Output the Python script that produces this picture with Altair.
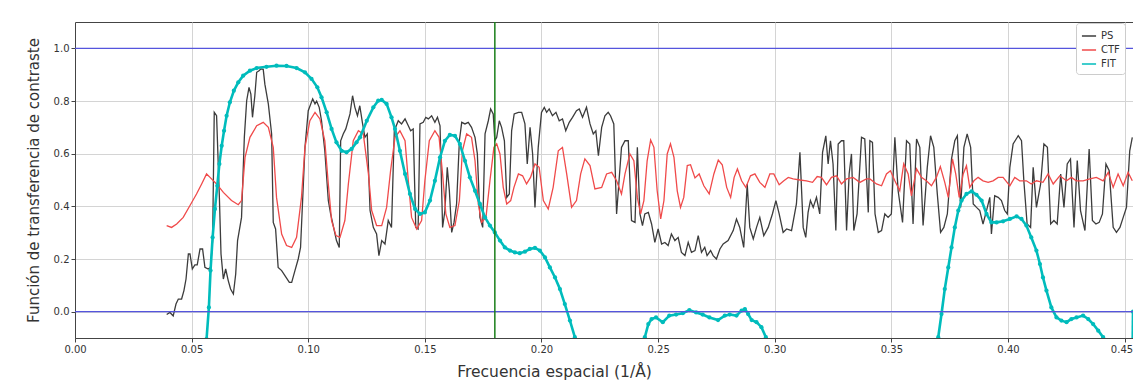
import altair as alt
import pandas as pd

# ---------------- data ----------------
ps_x = [0.0393, 0.0407, 0.0421, 0.0433, 0.0443, 0.0457, 0.0467, 0.0476, 0.0486, 0.0493,
        0.0503, 0.0514, 0.0524, 0.0536, 0.0547, 0.0557, 0.0571, 0.0581, 0.0590, 0.0597,
        0.0607, 0.0619, 0.0626, 0.0636, 0.0646, 0.0657, 0.0667, 0.0679, 0.0689, 0.0697,
        0.0714, 0.0726, 0.0736, 0.0746, 0.0754, 0.0761, 0.0771, 0.0779, 0.0789, 0.0797,
        0.0807, 0.0814, 0.0829, 0.0843, 0.0850, 0.0860, 0.0871, 0.0886, 0.0900, 0.0919,
        0.0929, 0.0943, 0.0957, 0.0967, 0.0979, 0.0986, 0.1000, 0.1019, 0.1029, 0.1036,
        0.1047, 0.1057, 0.1071, 0.1086, 0.1096, 0.1107, 0.1121, 0.1133, 0.1139, 0.1150,
        0.1161, 0.1179, 0.1190, 0.1200, 0.1211, 0.1221,
        0.1232, 0.1243, 0.1253, 0.1265, 0.1279, 0.1293, 0.1303, 0.1315, 0.1329, 0.1343,
        0.1357, 0.1369, 0.1386, 0.1400, 0.1415, 0.1429, 0.1439, 0.1450, 0.1461, 0.1471,
        0.1479, 0.1493, 0.1504, 0.1515, 0.1529, 0.1543, 0.1554, 0.1565, 0.1576, 0.1586,
        0.1596, 0.1605, 0.1615, 0.1625, 0.1636, 0.1648, 0.1658, 0.1672, 0.1686, 0.1700,
        0.1715, 0.1725, 0.1736, 0.1748, 0.1758, 0.1772, 0.1782, 0.1793, 0.1800, 0.1808,
        0.1819, 0.1829, 0.1841, 0.1851, 0.1862, 0.1872, 0.1883, 0.1901, 0.1915, 0.1929,
        0.1939, 0.1951, 0.1962, 0.1972, 0.1986, 0.2000, 0.2012, 0.2022, 0.2033, 0.2047,
        0.2062, 0.2076, 0.2090, 0.2104, 0.2119, 0.2133, 0.2150, 0.2162, 0.2176, 0.2193,
        0.2208, 0.2222, 0.2233, 0.2244, 0.2258, 0.2272, 0.2286, 0.2296, 0.2310, 0.2322,
        0.2343, 0.2358, 0.2372, 0.2386, 0.2401, 0.2411, 0.2422, 0.2433, 0.2443, 0.2458,
        0.2472, 0.2486, 0.2500, 0.2515, 0.2529, 0.2543, 0.2557, 0.2572, 0.2586, 0.2600,
        0.2615, 0.2629, 0.2643, 0.2658, 0.2672, 0.2686, 0.2700, 0.2710, 0.2725, 0.2736,
        0.2750, 0.2765, 0.2779, 0.2800, 0.2822, 0.2836, 0.2850, 0.2867, 0.2882, 0.2893,
        0.2908, 0.2922, 0.2936, 0.2953, 0.2972, 0.2990, 0.3005, 0.3019, 0.3036, 0.3051,
        0.3072, 0.3093, 0.3108, 0.3122, 0.3133, 0.3143, 0.3153, 0.3165, 0.3179, 0.3193,
        0.3205, 0.3219, 0.3229, 0.3239, 0.3250, 0.3262, 0.3272, 0.3286, 0.3296, 0.3308,
        0.3319, 0.3329, 0.3339, 0.3353, 0.3372, 0.3386, 0.3401,
        0.3408, 0.3419, 0.3430, 0.3444, 0.3458, 0.3472, 0.3486, 0.3500, 0.3515, 0.3529,
        0.3548, 0.3565, 0.3579, 0.3593, 0.3608, 0.3622, 0.3636, 0.3654, 0.3668, 0.3682,
        0.3697, 0.3711, 0.3725, 0.3740, 0.3758, 0.3772, 0.3783, 0.3797, 0.3811, 0.3825,
        0.3840, 0.3851, 0.3865, 0.3879, 0.3893, 0.3908, 0.3922, 0.3929, 0.3943, 0.3958,
        0.3972, 0.3986, 0.3997, 0.4008, 0.4022, 0.4044, 0.4058, 0.4068, 0.4082, 0.4097,
        0.4108, 0.4122, 0.4140, 0.4154, 0.4169, 0.4183, 0.4197, 0.4211, 0.4226, 0.4240,
        0.4254, 0.4268, 0.4283, 0.4297, 0.4311, 0.4330, 0.4348, 0.4362, 0.4377, 0.4391,
        0.4405, 0.4420, 0.4434, 0.4451, 0.4465, 0.4480, 0.4494, 0.4508, 0.4522, 0.4533]
ps_y = [-0.011, -0.003, -0.016, 0.029, 0.048, 0.048, 0.080, 0.124, 0.219, 0.219,
        0.162, 0.178, 0.178, 0.238, 0.238, 0.168, 0.162, 0.168, 0.270, 0.757,
        0.744, 0.434, 0.219, 0.124, 0.162, 0.118, 0.086, 0.067, 0.143, 0.270,
        0.358, 0.662, 0.801, 0.852, 0.826, 0.738, 0.820, 0.909, 0.915, 0.922,
        0.920, 0.864, 0.788, 0.675, 0.339, 0.314, 0.168, 0.156, 0.137, 0.111,
        0.111, 0.156, 0.200, 0.244, 0.485, 0.624, 0.763, 0.808, 0.789, 0.799,
        0.776, 0.725, 0.611, 0.422, 0.371, 0.327, 0.270, 0.244, 0.649, 0.675,
        0.694, 0.751, 0.820, 0.776, 0.744, 0.782,
        0.719, 0.662, 0.675, 0.384, 0.320, 0.295, 0.213, 0.270, 0.257, 0.346,
        0.320, 0.687, 0.725, 0.713, 0.732, 0.706, 0.687, 0.694, 0.320, 0.314,
        0.713, 0.719, 0.738, 0.732, 0.744, 0.719, 0.738, 0.706, 0.320, 0.384,
        0.548, 0.459, 0.301, 0.339, 0.409, 0.649, 0.719, 0.713, 0.719, 0.700,
        0.662, 0.599, 0.358, 0.320, 0.675, 0.725, 0.770, 0.751, 0.649, 0.662,
        0.725, 0.700, 0.649, 0.434, 0.447, 0.687, 0.751, 0.757, 0.757, 0.713,
        0.561, 0.700, 0.599, 0.396, 0.624, 0.757, 0.776, 0.757, 0.770, 0.744,
        0.757, 0.725, 0.732, 0.687, 0.719, 0.738, 0.763, 0.770, 0.738, 0.776,
        0.713, 0.675, 0.687, 0.592, 0.700, 0.744, 0.757, 0.744, 0.713, 0.371,
        0.624, 0.649, 0.649, 0.346, 0.339, 0.624, 0.371, 0.327, 0.371, 0.377,
        0.333, 0.263, 0.314, 0.257, 0.263, 0.251, 0.295, 0.270, 0.282, 0.225,
        0.213, 0.263, 0.225, 0.232, 0.289, 0.225, 0.244, 0.213, 0.232, 0.213,
        0.200, 0.238, 0.257, 0.270, 0.308, 0.352, 0.320, 0.244, 0.485, 0.320,
        0.276, 0.320, 0.358, 0.289, 0.320, 0.371, 0.422, 0.371, 0.301, 0.314,
        0.308, 0.409, 0.605, 0.320, 0.282, 0.377, 0.422, 0.396, 0.434, 0.371,
        0.605, 0.668, 0.561, 0.649, 0.561, 0.308, 0.637, 0.649, 0.649, 0.308,
        0.523, 0.599, 0.308, 0.371, 0.662, 0.656, 0.377,
        0.649, 0.643, 0.371, 0.301, 0.308, 0.371, 0.358, 0.371, 0.662, 0.459,
        0.339, 0.649, 0.637, 0.333, 0.656, 0.624, 0.327, 0.548, 0.668, 0.624,
        0.447, 0.301, 0.320, 0.371, 0.580, 0.649, 0.668, 0.396, 0.624, 0.675,
        0.624, 0.409, 0.396, 0.384, 0.333, 0.384, 0.434, 0.295, 0.440, 0.434,
        0.422, 0.384, 0.371, 0.548, 0.637, 0.668, 0.649, 0.497, 0.333, 0.320,
        0.548, 0.396, 0.485, 0.637, 0.624, 0.333, 0.346, 0.333, 0.523, 0.396,
        0.561, 0.580, 0.320, 0.574, 0.384, 0.308, 0.618, 0.346, 0.333, 0.339,
        0.371, 0.561, 0.535, 0.320, 0.301, 0.320, 0.358, 0.396, 0.611, 0.662]

ctf_x = [0.0393, 0.0414, 0.0436, 0.0464, 0.0493, 0.0521, 0.0543, 0.0564, 0.0579, 0.0607,
         0.0636, 0.0671, 0.0700, 0.0714, 0.0729, 0.0750, 0.0779, 0.0807, 0.0829, 0.0850,
         0.0864, 0.0886, 0.0907, 0.0929, 0.0950, 0.0971, 0.0986, 0.1007, 0.1029, 0.1050,
         0.1071, 0.1086, 0.1100, 0.1119, 0.1136,
         0.1157, 0.1172, 0.1193, 0.1215, 0.1236, 0.1258, 0.1272, 0.1293, 0.1315, 0.1336,
         0.1353, 0.1372, 0.1393, 0.1415, 0.1429, 0.1443, 0.1465, 0.1486, 0.1500, 0.1519,
         0.1543, 0.1561, 0.1576, 0.1590, 0.1607, 0.1629, 0.1648, 0.1661, 0.1679, 0.1700,
         0.1715, 0.1729, 0.1743, 0.1762, 0.1779, 0.1796, 0.1808, 0.1822, 0.1836, 0.1851,
         0.1868, 0.1882, 0.1901, 0.1919, 0.1936, 0.1953, 0.1972, 0.1990, 0.2008, 0.2029,
         0.2050, 0.2072, 0.2090, 0.2108, 0.2129, 0.2150, 0.2168, 0.2186, 0.2208, 0.2229,
         0.2258, 0.2279, 0.2301, 0.2322, 0.2343,
         0.2358, 0.2379, 0.2396, 0.2411, 0.2425, 0.2439, 0.2453, 0.2468, 0.2482, 0.2496,
         0.2511, 0.2525, 0.2539, 0.2553, 0.2568, 0.2582, 0.2596, 0.2610, 0.2625, 0.2639,
         0.2658, 0.2676, 0.2696, 0.2719, 0.2739, 0.2758, 0.2775, 0.2794, 0.2811, 0.2826,
         0.2840, 0.2858, 0.2876, 0.2896, 0.2915, 0.2936, 0.2958, 0.2979, 0.2996, 0.3019,
         0.3039, 0.3058, 0.3079, 0.3108, 0.3136, 0.3162, 0.3182, 0.3200, 0.3222, 0.3243,
         0.3265, 0.3286, 0.3308, 0.3336, 0.3365, 0.3393,
         0.3408, 0.3436, 0.3458, 0.3479, 0.3496, 0.3515, 0.3536, 0.3553, 0.3572, 0.3586,
         0.3608, 0.3629, 0.3650, 0.3672, 0.3693, 0.3710, 0.3729, 0.3744, 0.3762, 0.3776,
         0.3791, 0.3808, 0.3822, 0.3836, 0.3854, 0.3872, 0.3893, 0.3915, 0.3936, 0.3958,
         0.3979, 0.4008, 0.4029, 0.4050, 0.4079, 0.4100, 0.4122, 0.4150, 0.4172, 0.4194,
         0.4222, 0.4251, 0.4272, 0.4293, 0.4322, 0.4351, 0.4379, 0.4408, 0.4430, 0.4451,
         0.4472, 0.4494, 0.4515, 0.4533]
ctf_y = [0.327, 0.320, 0.333, 0.358, 0.403, 0.447, 0.485, 0.523, 0.510, 0.485,
         0.453, 0.422, 0.406, 0.422, 0.586, 0.662, 0.706, 0.719, 0.700, 0.624,
         0.434, 0.295, 0.251, 0.244, 0.282, 0.434, 0.624, 0.725, 0.757, 0.732,
         0.649, 0.485, 0.346, 0.289, 0.282,
         0.346, 0.485, 0.649, 0.687, 0.675, 0.523, 0.384, 0.327, 0.327, 0.396,
         0.535, 0.662, 0.687, 0.649, 0.497, 0.358, 0.314, 0.346, 0.497, 0.649,
         0.687, 0.662, 0.523, 0.371, 0.320, 0.327, 0.422, 0.611, 0.675, 0.662,
         0.573, 0.409, 0.339, 0.358, 0.497, 0.624, 0.637, 0.599, 0.472, 0.409,
         0.422, 0.472, 0.523, 0.516, 0.485, 0.510, 0.561, 0.548, 0.422, 0.390,
         0.472, 0.611, 0.624, 0.523, 0.396, 0.422, 0.523, 0.580, 0.555, 0.466,
         0.472, 0.523, 0.529, 0.497, 0.447,
         0.523, 0.599, 0.573, 0.434, 0.371, 0.422, 0.573, 0.652, 0.624, 0.459,
         0.352, 0.422, 0.599, 0.637, 0.586, 0.459, 0.396, 0.434, 0.555, 0.558,
         0.508, 0.523, 0.478, 0.447, 0.523, 0.576, 0.558, 0.472, 0.434, 0.510,
         0.542, 0.497, 0.472, 0.516, 0.523, 0.491, 0.472, 0.523, 0.523, 0.482,
         0.497, 0.510, 0.504, 0.500, 0.497, 0.491, 0.513, 0.510, 0.482, 0.510,
         0.516, 0.485, 0.504, 0.510, 0.491, 0.504,
         0.504, 0.485, 0.478, 0.523, 0.535, 0.497, 0.459, 0.561, 0.523, 0.440,
         0.542, 0.510, 0.497, 0.478, 0.510, 0.551, 0.491, 0.434, 0.580, 0.523,
         0.434, 0.523, 0.554, 0.472, 0.497, 0.510, 0.497, 0.491, 0.497, 0.510,
         0.510, 0.478, 0.510, 0.497, 0.497, 0.485, 0.497, 0.491, 0.523, 0.485,
         0.516, 0.497, 0.510, 0.497, 0.497, 0.504, 0.510, 0.497, 0.529, 0.472,
         0.523, 0.478, 0.529, 0.497]

fit1_x = [0.0564, 0.0574, 0.0581, 0.0590, 0.0600, 0.0610, 0.0619, 0.0629, 0.0639, 0.0650,
          0.0664, 0.0681, 0.0700, 0.0721, 0.0750, 0.0779, 0.0821, 0.0864, 0.0907, 0.0950,
          0.0986, 0.1014, 0.1039, 0.1057, 0.1079, 0.1100, 0.1121, 0.1143, 0.1164, 0.1186,
          0.1207, 0.1222, 0.1251, 0.1279, 0.1300, 0.1315, 0.1336, 0.1357, 0.1372, 0.1393,
          0.1415, 0.1436, 0.1458, 0.1479, 0.1500, 0.1522, 0.1543, 0.1565, 0.1586, 0.1607,
          0.1629, 0.1650, 0.1672, 0.1693, 0.1715, 0.1736, 0.1758, 0.1779, 0.1800, 0.1822,
          0.1843, 0.1865, 0.1886, 0.1907, 0.1929, 0.1950, 0.1972, 0.1993, 0.2015, 0.2036,
          0.2058, 0.2079, 0.2100, 0.2122, 0.2143, 0.2160]
fit1_y = [-0.104, 0.016, 0.156, 0.282, 0.390, 0.478, 0.561, 0.630, 0.687, 0.744,
          0.795, 0.839, 0.871, 0.896, 0.915, 0.925, 0.930, 0.934, 0.933, 0.925,
          0.909, 0.884, 0.852, 0.814, 0.757, 0.694, 0.643, 0.611, 0.605, 0.618,
          0.643, 0.662, 0.725, 0.776, 0.801, 0.804, 0.789, 0.738, 0.694, 0.611,
          0.523, 0.447, 0.390, 0.371, 0.377, 0.422, 0.497, 0.586, 0.649, 0.671,
          0.668, 0.637, 0.573, 0.510, 0.459, 0.409, 0.358, 0.327, 0.301, 0.270,
          0.244, 0.232, 0.225, 0.222, 0.228, 0.238, 0.242, 0.232, 0.206, 0.168,
          0.130, 0.086, 0.029, -0.034, -0.097, -0.150]

fit2_x = [0.2436, 0.2443, 0.2458, 0.2472, 0.2491, 0.2520, 0.2548, 0.2577, 0.2606, 0.2634,
          0.2663, 0.2691, 0.2720, 0.2757, 0.2786, 0.2807, 0.2836, 0.2858, 0.2872, 0.2886,
          0.2901, 0.2922, 0.2943, 0.2962, 0.2970]
fit2_y = [-0.150, -0.097, -0.047, -0.028, -0.022, -0.040, -0.015, -0.011, -0.006, 0.006,
          -0.003, -0.011, -0.022, -0.032, -0.015, -0.011, -0.015, 0.004, 0.010, -0.009,
          -0.032, -0.040, -0.059, -0.097, -0.150]

fit3_x = [0.3697, 0.3701, 0.3715, 0.3729, 0.3744, 0.3758, 0.3772, 0.3787, 0.3801, 0.3822,
          0.3844, 0.3865, 0.3887, 0.3908, 0.3929, 0.3951, 0.3979, 0.4008, 0.4037, 0.4058,
          0.4079, 0.4100, 0.4122, 0.4137, 0.4150, 0.4165, 0.4186, 0.4208, 0.4229, 0.4251,
          0.4272, 0.4294, 0.4322, 0.4344, 0.4365, 0.4387, 0.4408, 0.4420]
fit3_y = [-0.150, -0.097, -0.009, 0.086, 0.168, 0.244, 0.320, 0.384, 0.422, 0.447,
          0.457, 0.444, 0.422, 0.371, 0.339, 0.339, 0.343, 0.352, 0.362, 0.352,
          0.327, 0.282, 0.232, 0.181, 0.130, 0.080, 0.016, -0.022, -0.034, -0.040,
          -0.028, -0.022, -0.015, -0.028, -0.047, -0.072, -0.097, -0.150]

fit4_x = [0.4534, 0.4536]
fit4_y = [-0.150, 0.000]

hlines = [0.0, 1.0]
vlines = [0.18]

series_names = ["PS", "CTF", "FIT"]
series_colors = ["#3c3c3c", "#f04a4a", "#00bcbc"]
x_ticks = [0.00, 0.05, 0.10, 0.15, 0.20, 0.25, 0.30, 0.35, 0.40, 0.45]
y_ticks = [0.0, 0.2, 0.4, 0.6, 0.8, 1.0]

# ---------------- tables ----------------
rows = []
for x, y in zip(ps_x, ps_y):
    rows.append({"x": x, "y": y, "series": "PS", "seg": "PS"})
for x, y in zip(ctf_x, ctf_y):
    rows.append({"x": x, "y": y, "series": "CTF", "seg": "CTF"})
lines_df = pd.DataFrame(rows)

frows = []
for i, (xs, ys) in enumerate([(fit1_x, fit1_y), (fit2_x, fit2_y), (fit3_x, fit3_y), (fit4_x, fit4_y)]):
    for x, y in zip(xs, ys):
        frows.append({"x": x, "y": y, "series": "FIT", "seg": f"FIT{i}"})
fit_df = pd.DataFrame(frows)

h_df = pd.DataFrame({"y": hlines})
v_df = pd.DataFrame({"x": vlines})

FONT = "DejaVu Sans"

x_enc = alt.X("x:Q",
              scale=alt.Scale(domain=[0, 0.4536], nice=False, zero=False),
              axis=alt.Axis(values=x_ticks, format=".2f", title="Frecuencia espacial (1/Å)",
                            titlePadding=10, titleX=479, titleAlign="center",
                            titleFontSize=15.5, labelFlush=False,
                            labelAlign={"condition": {"test": "datum.value > 0.44", "value": "right"},
                                        "value": "center"},
                            labelOffset={"condition": {"test": "datum.value > 0.44", "value": 8},
                                         "value": 0}))
y_enc = alt.Y("y:Q",
              scale=alt.Scale(domain=[-0.1, 1.1], nice=False, zero=False),
              axis=alt.Axis(values=y_ticks, format=".1f",
                            title="Función de transferencia de contraste",
                            titlePadding=12, labelFlush=False))

color_scale = alt.Scale(domain=series_names, range=series_colors)
legend = alt.Legend(title=None, orient="none", legendX=1001, legendY=1,
                    symbolType="stroke", symbolSize=200, symbolStrokeWidth=1.5,
                    labelFontSize=10, labelColor="#333333", labelFont=FONT,
                    strokeColor="#cccccc", fillColor="white", padding=5,
                    cornerRadius=3, rowPadding=1)

base_lines = alt.Chart(lines_df).mark_line(strokeWidth=1.3, clip=True).encode(
    x=x_enc, y=y_enc,
    color=alt.Color("series:N", scale=color_scale, legend=legend, sort=series_names),
    detail="seg:N",
)

fit_line = alt.Chart(fit_df).mark_line(strokeWidth=2.6, clip=True).encode(
    x="x:Q", y="y:Q",
    color=alt.Color("series:N", scale=color_scale, sort=series_names),
    detail="seg:N",
)

fit_pts = alt.Chart(fit_df).mark_point(filled=True, size=18, opacity=1, clip=True).encode(
    x="x:Q", y="y:Q",
    color=alt.Color("series:N", scale=color_scale, sort=series_names),
)

h_rules = alt.Chart(h_df).mark_rule(color="#5555dd", strokeWidth=1.2).encode(y="y:Q")
v_rules = alt.Chart(v_df).mark_rule(color="#1a7f1a", strokeWidth=1.5).encode(x="x:Q")

chart = alt.layer(base_lines, fit_line, fit_pts, h_rules, v_rules).properties(
    width=1058, height=316,
    padding={"left": 67, "top": 14, "right": 0, "bottom": 43},
    autosize=alt.AutoSizeParams(type="none"),
    background="white",
).configure_view(
    stroke="#444444", strokeWidth=1
).configure_axis(
    grid=True, gridColor="#d4d4d4", gridWidth=1,
    domainColor="#444444", tickColor="#444444", tickSize=4,
    labelColor="#333333", labelFontSize=10, labelFont=FONT,
    titleColor="#333333", titleFontSize=15, titleFontWeight="normal", titleFont=FONT,
)

chart.save("out.html", embed_options={"renderer": "svg", "actions": False})
